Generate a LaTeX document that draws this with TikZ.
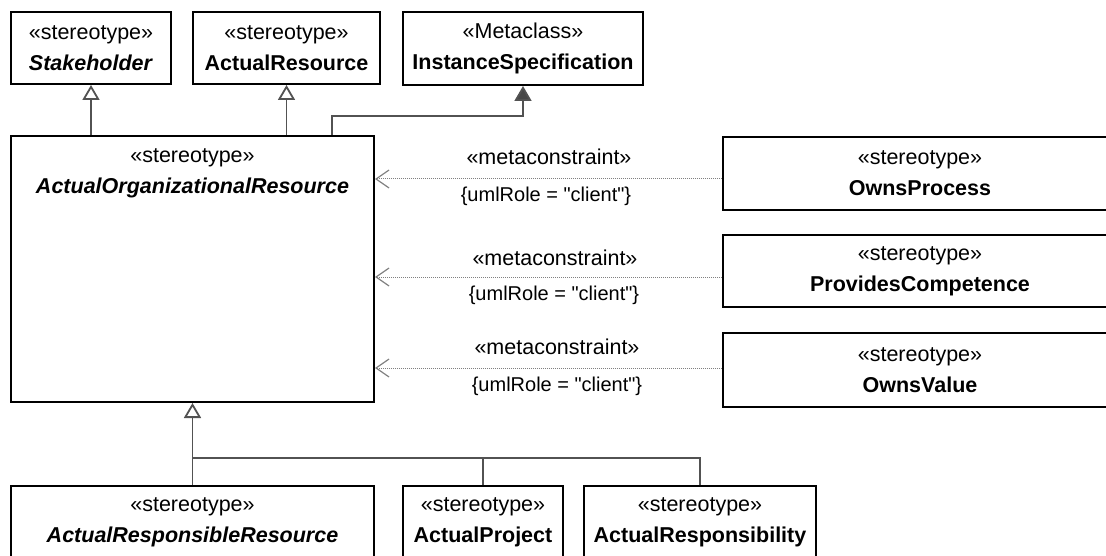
\documentclass[tikz,border=0pt]{standalone}
\usepackage{fontspec}
\setmainfont{Liberation Sans}[Ligatures=TeXOff]
\usetikzlibrary{arrows.meta}
\begin{document}
\begin{tikzpicture}[x=1pt,y=-1pt,
  box/.style={draw=black, line width=2pt, fill=white, align=center, inner sep=0pt,
    font=\fontsize{21.5}{31}\selectfont},
  boxtext/.style={align=center, inner sep=0pt, font=\fontsize{21.5}{31}\selectfont},
  lblm/.style={inner sep=0pt, font=\fontsize{21.5}{26}\selectfont},
  lblr/.style={inner sep=0pt, font=\fontsize{20}{24}\selectfont},
  conn/.style={draw=black!68, line width=1.8pt},
  gen/.style={conn, -{Triangle[open, length=15pt, width=17pt, fill=white]}},
  impl/.style={conn, -{Triangle[length=15pt, width=17pt, fill=black!72]}},
  dep/.style={draw=black!50, line width=1pt, dash pattern=on 1pt off 1pt,
    -{Straight Barb[length=13pt, width=18pt, line width=1.2pt]}}
]
\useasboundingbox (0,0) rectangle (1106,556);
\clip (0,0) rectangle (1106,556);

% top row
\node[box, minimum width=160pt, minimum height=72pt] (sh) at (91,48)
  {«stereotype»\\\textbf{\textit{Stakeholder}}};
\node[box, minimum width=187pt, minimum height=72pt] (ar) at (286.5,48)
  {«stereotype»\\\textbf{ActualResource}};
\node[box, minimum width=240pt, minimum height=73pt] (is) at (523,48.5)
  {«Metaclass»\\\textbf{InstanceSpecification}};

% main box
\node[box, minimum width=363pt, minimum height=266pt] (main) at (192.5,269) {};
\node[boxtext] (maint) at (192.5,173)
  {«stereotype»\\\textbf{\textit{ActualOrganizationalResource}}};

% right column
\node[box, minimum width=394pt, minimum height=73pt] (op) at (920,173.5)
  {«stereotype»\\\textbf{OwnsProcess}};
\node[box, minimum width=394pt, minimum height=72pt] (pc) at (920,271)
  {«stereotype»\\\textbf{ProvidesCompetence}};
\node[box, minimum width=394pt, minimum height=74pt] (ov) at (920,370)
  {«stereotype»\\\textbf{OwnsValue}};

% bottom row
\node[box, minimum width=363pt, minimum height=72pt] (arr) at (192.5,522)
  {«stereotype»\\\textbf{\textit{ActualResponsibleResource}}};
\node[box, minimum width=160pt, minimum height=72pt] (ap) at (483,522)
  {«stereotype»\\\textbf{ActualProject}};
\node[box, minimum width=232pt, minimum height=72pt] (aresp) at (700,522)
  {«stereotype»\\\textbf{ActualResponsibility}};

% generalizations to top
\draw[gen] (main.north -| sh.south) -- (sh.south);
\draw[gen] (main.north -| ar.south) -- (ar.south);
\draw[impl] ([xshift=139.5pt]main.north) -- ++(0,-19) -| (is.south);

% metaconstraints
\draw[dep] ([yshift=-5.5pt]op.west) -- ([yshift=-5.5pt]op.west -| main.east);
\draw[dep] ([yshift=-6pt]pc.west) -- ([yshift=-6pt]pc.west -| main.east);
\draw[dep] ([yshift=2pt]ov.west) -- ([yshift=2pt]ov.west -| main.east);

\node[lblm] (m1) at (549,157) {«metaconstraint»};
\node[lblr] (r1) at (546,196) {\{umlRole = "client"\}};
\node[lblm] (m2) at (555,258) {«metaconstraint»};
\node[lblr] (r2) at (554,295) {\{umlRole = "client"\}};
\node[lblm] (m3) at (557,347) {«metaconstraint»};
\node[lblr] (r3) at (557,386) {\{umlRole = "client"\}};

% generalization tree at bottom
\coordinate (bus) at (192.5,458);
\draw[conn] (ap.north) |- (bus);
\draw[conn] (aresp.north) |- (bus);
\draw[gen] (arr.north) -- (main.south);
\end{tikzpicture}
\end{document}
